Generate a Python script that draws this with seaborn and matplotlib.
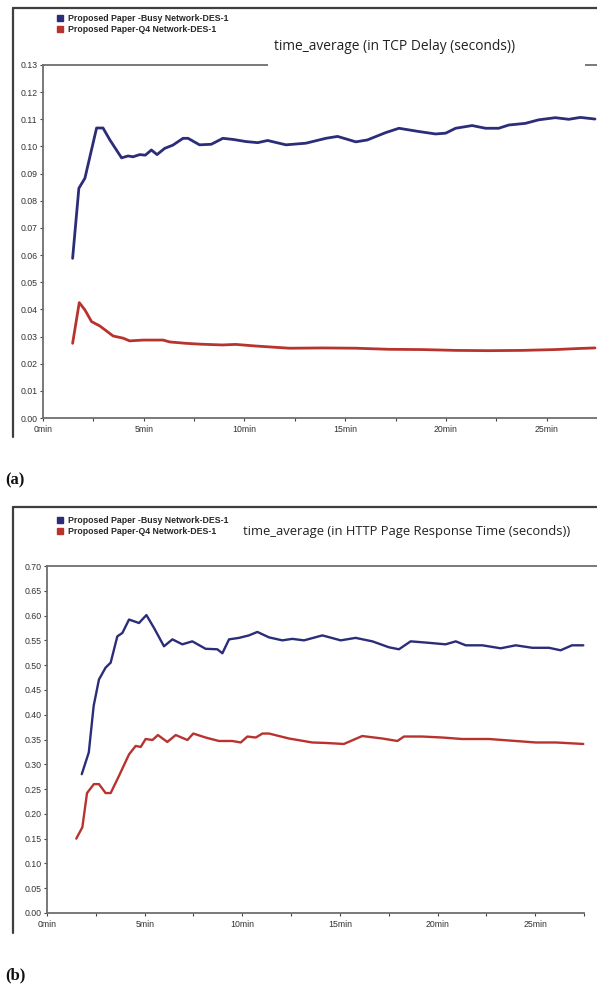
import numpy as np
import pandas as pd
import matplotlib
matplotlib.use("Agg")
import matplotlib.pyplot as plt
import seaborn as sns
from matplotlib.lines import Line2D
from matplotlib.patches import Rectangle

# ---------------- data ----------------
series_names = ["Proposed Paper -Busy Network-DES-1", "Proposed Paper-Q4 Network-DES-1"]
x_tick_labels = ["0min", "5min", "10min", "15min", "20min", "25min"]

# (a) TCP Delay (seconds)
a_busy_t = [1.47, 1.78, 2.08, 2.66, 2.98, 3.32, 3.9, 4.22, 4.47, 4.8, 5.08, 5.38, 5.66, 6.04, 6.45,
            6.95, 7.2, 7.77, 8.35, 8.93, 9.42, 10.08, 10.66, 11.15, 12.06, 13.05, 14.04, 14.62,
            15.53, 16.1, 17.01, 17.67, 18.66, 19.49, 19.99, 20.48, 21.3, 21.97, 22.62, 23.12,
            23.94, 24.6, 25.43, 26.1, 26.67, 27.4]
a_busy_v = [0.0588, 0.0846, 0.0883, 0.1068, 0.1068, 0.1024, 0.0958, 0.0965, 0.0962, 0.0970, 0.0968,
            0.0987, 0.0970, 0.0993, 0.1005, 0.1030, 0.1030, 0.1006, 0.1008, 0.1030, 0.1026, 0.1018,
            0.1014, 0.1022, 0.1006, 0.1012, 0.1030, 0.1037, 0.1017, 0.1024, 0.1051, 0.1067, 0.1055,
            0.1046, 0.1049, 0.1067, 0.1077, 0.1067, 0.1067, 0.1079, 0.1085, 0.1098, 0.1106, 0.1100,
            0.1107, 0.1101]
a_q4_t = [1.47, 1.8, 2.08, 2.41, 2.82, 3.48, 3.98, 4.3, 4.97, 5.96, 6.3, 7.1, 7.77, 8.9, 9.57,
          10.58, 12.23, 13.88, 15.53, 17.18, 18.83, 20.48, 22.13, 23.78, 25.43, 26.6, 27.4]
a_q4_v = [0.0275, 0.0425, 0.0398, 0.0355, 0.0339, 0.0302, 0.0294, 0.0284, 0.0287, 0.0287, 0.0280,
          0.0275, 0.0272, 0.0269, 0.0271, 0.0265, 0.0257, 0.0258, 0.0257, 0.0253, 0.0252, 0.0249,
          0.0248, 0.0249, 0.0252, 0.0256, 0.0258]

# (b) HTTP Page Response Time (seconds)
b_busy_t = [1.78, 2.14, 2.39, 2.66, 3.0, 3.26, 3.6, 3.86, 4.2, 4.71, 5.09, 5.48, 5.99, 6.42, 6.93,
            7.44, 8.12, 8.72, 8.98, 9.32, 9.83, 10.34, 10.77, 11.37, 12.05, 12.56, 13.16, 14.1,
            15.04, 15.8, 16.66, 17.51, 18.02, 18.62, 19.56, 20.41, 20.93, 21.44, 22.29, 23.23,
            24.0, 24.85, 25.7, 26.3, 26.88, 27.46]
b_busy_v = [0.280, 0.324, 0.418, 0.471, 0.495, 0.505, 0.558, 0.565, 0.592, 0.585, 0.601, 0.575,
            0.538, 0.552, 0.542, 0.548, 0.533, 0.532, 0.524, 0.552, 0.555, 0.560, 0.567, 0.556,
            0.550, 0.553, 0.550, 0.560, 0.550, 0.555, 0.548, 0.536, 0.532, 0.548, 0.545, 0.542,
            0.548, 0.540, 0.540, 0.534, 0.540, 0.535, 0.535, 0.530, 0.540, 0.540]
b_q4_t = [1.5, 1.81, 2.05, 2.4, 2.66, 3.0, 3.26, 3.69, 4.2, 4.54, 4.8, 5.05, 5.4, 5.68, 6.16, 6.59,
          7.19, 7.49, 8.12, 8.8, 9.48, 9.92, 10.26, 10.69, 11.03, 11.37, 12.39, 13.58, 14.27, 15.2,
          16.14, 17.17, 17.94, 18.28, 19.2, 20.24, 21.26, 22.63, 24.0, 25.02, 26.05, 27.46]
b_q4_v = [0.150, 0.173, 0.242, 0.260, 0.260, 0.242, 0.242, 0.277, 0.320, 0.337, 0.335, 0.351,
          0.349, 0.359, 0.345, 0.359, 0.349, 0.362, 0.354, 0.347, 0.347, 0.344, 0.356, 0.354,
          0.362, 0.362, 0.352, 0.344, 0.343, 0.341, 0.357, 0.352, 0.347, 0.356, 0.356, 0.354,
          0.351, 0.351, 0.347, 0.344, 0.344, 0.341]

titles = ["time_average (in TCP Delay (seconds))",
          "time_average (in HTTP Page Response Time (seconds))"]
captions = ["(a)", "(b)"]

# ---------------- styling ----------------
sns.set_theme(style="white")
plt.rcParams["font.family"] = ["Liberation Sans", "DejaVu Sans"]

W, H = 597, 994
fig = plt.figure(figsize=(W / 100, H / 100), dpi=100)

def fx(px):
    return px / W

def fy(py):
    return 1 - py / H

blue = "#2b2d78"
red = "#b8332e"
palette = {series_names[0]: blue, series_names[1]: red}
spine_col = "#6e6e6e"
frame_col = "#3f3f3f"


def make_df(t1, v1, t2, v2):
    return pd.concat([
        pd.DataFrame({"t": t1, "v": v1, "series": series_names[0]}),
        pd.DataFrame({"t": t2, "v": v2, "series": series_names[1]}),
    ], ignore_index=True)


def panel(left_px, right_px, top_px, bottom_px, xmax, ymax, ystep, yfmt, df,
          frame_top, frame_bottom, leg_x, leg_y, title_x, title_y, title_size, gap,
          caption_y, line_end, lw):
    ax = fig.add_axes([fx(left_px), fy(bottom_px), fx(right_px - left_px),
                       (bottom_px - top_px) / H])
    sns.lineplot(data=df, x="t", y="v", hue="series", palette=palette, ax=ax,
                 legend=False, linewidth=lw, sort=False, estimator=None)
    ax.set_xlim(0, xmax)
    ax.set_ylim(0, ymax)
    ax.set_xlabel("")
    ax.set_ylabel("")
    ax.set_xticks(np.arange(0, 26, 5))
    ax.set_xticklabels(x_tick_labels)
    ax.set_xticks(np.arange(2.5, 28, 5), minor=True)
    yt = np.round(np.arange(0, ymax + ystep / 2, ystep), 3)
    ax.set_yticks(yt)
    ax.set_yticklabels([yfmt.format(v) for v in yt])
    ax.tick_params(axis="both", which="major", direction="out", length=2.5, width=0.8,
                   color="#444444", labelsize=6.3, labelcolor="#333333", pad=1.5)
    ax.tick_params(axis="x", which="minor", direction="out", length=2, width=0.8,
                   color="#444444", bottom=True)
    ax.tick_params(axis="x", which="major", bottom=True, pad=2.5)
    ax.tick_params(axis="y", which="major", left=True)
    for s in ["left", "bottom", "top"]:
        ax.spines[s].set_visible(True)
        ax.spines[s].set_color(spine_col)
        ax.spines[s].set_linewidth(1.3)
    ax.spines["right"].set_visible(False)
    if line_end is not None:
        ax.spines["bottom"].set_bounds(0, line_end)
    ax.set_facecolor("white")
    ax.grid(False)

    # outer frame of the screenshot
    fig.add_artist(Line2D([fx(13), fx(597)], [fy(frame_top), fy(frame_top)],
                          color=frame_col, lw=1.6))
    fig.add_artist(Line2D([fx(13), fx(13)], [fy(frame_top), fy(frame_bottom)],
                          color=frame_col, lw=1.6))

    # legend
    handles = [Line2D([], [], marker="s", linestyle="none", markersize=5,
                      markerfacecolor=c, markeredgecolor=c) for c in (blue, red)]
    fig.legend(handles, series_names, loc="upper left",
               bbox_to_anchor=(fx(leg_x), fy(leg_y)), frameon=False,
               prop={"family": ["Liberation Sans Narrow", "Liberation Sans"],
                     "weight": "bold", "size": 6.3},
               handletextpad=0.35, labelspacing=0.2, borderpad=0, handlelength=1.0,
               borderaxespad=0)

    # gap in the top border under the title
    if gap is not None:
        fig.add_artist(Rectangle((fx(gap[0]), fy(top_px + 3)), fx(gap[1] - gap[0]), 6 / H,
                                 facecolor="white", edgecolor="none", zorder=5))
    fig.text(fx(title_x), fy(title_y), titles[panel.i], ha="left", va="center",
             fontsize=title_size, family=["Open Sans", "DejaVu Sans"], color="#222222",
             zorder=6)
    fig.text(fx(5), fy(caption_y), captions[panel.i], ha="left", va="center",
             fontsize=12, fontweight="bold", family=["Liberation Serif", "DejaVu Serif"],
             color="#111111")
    panel.i += 1
    return ax


panel.i = 0

df_a = make_df(a_busy_t, a_busy_v, a_q4_t, a_q4_v)
panel(43, 597, 65, 418, (597 - 43) / 20.2, 0.13, 0.01, "{:.2f}", df_a,
      frame_top=8, frame_bottom=437, leg_x=56, leg_y=14, title_x=274, title_y=46,
      title_size=9.9, gap=(268, 585), caption_y=480, line_end=None, lw=2.0)

df_b = make_df(b_busy_t, b_busy_v, b_q4_t, b_q4_v)
panel(47, 597, 566, 913, (597 - 47) / 19.53, 0.70, 0.05, "{:.2f}", df_b,
      frame_top=507, frame_bottom=933, leg_x=56, leg_y=516, title_x=243, title_y=532,
      title_size=9.4, gap=None, caption_y=975, line_end=27.5, lw=1.7)

fig.savefig("out.png", dpi=100, facecolor="white")
